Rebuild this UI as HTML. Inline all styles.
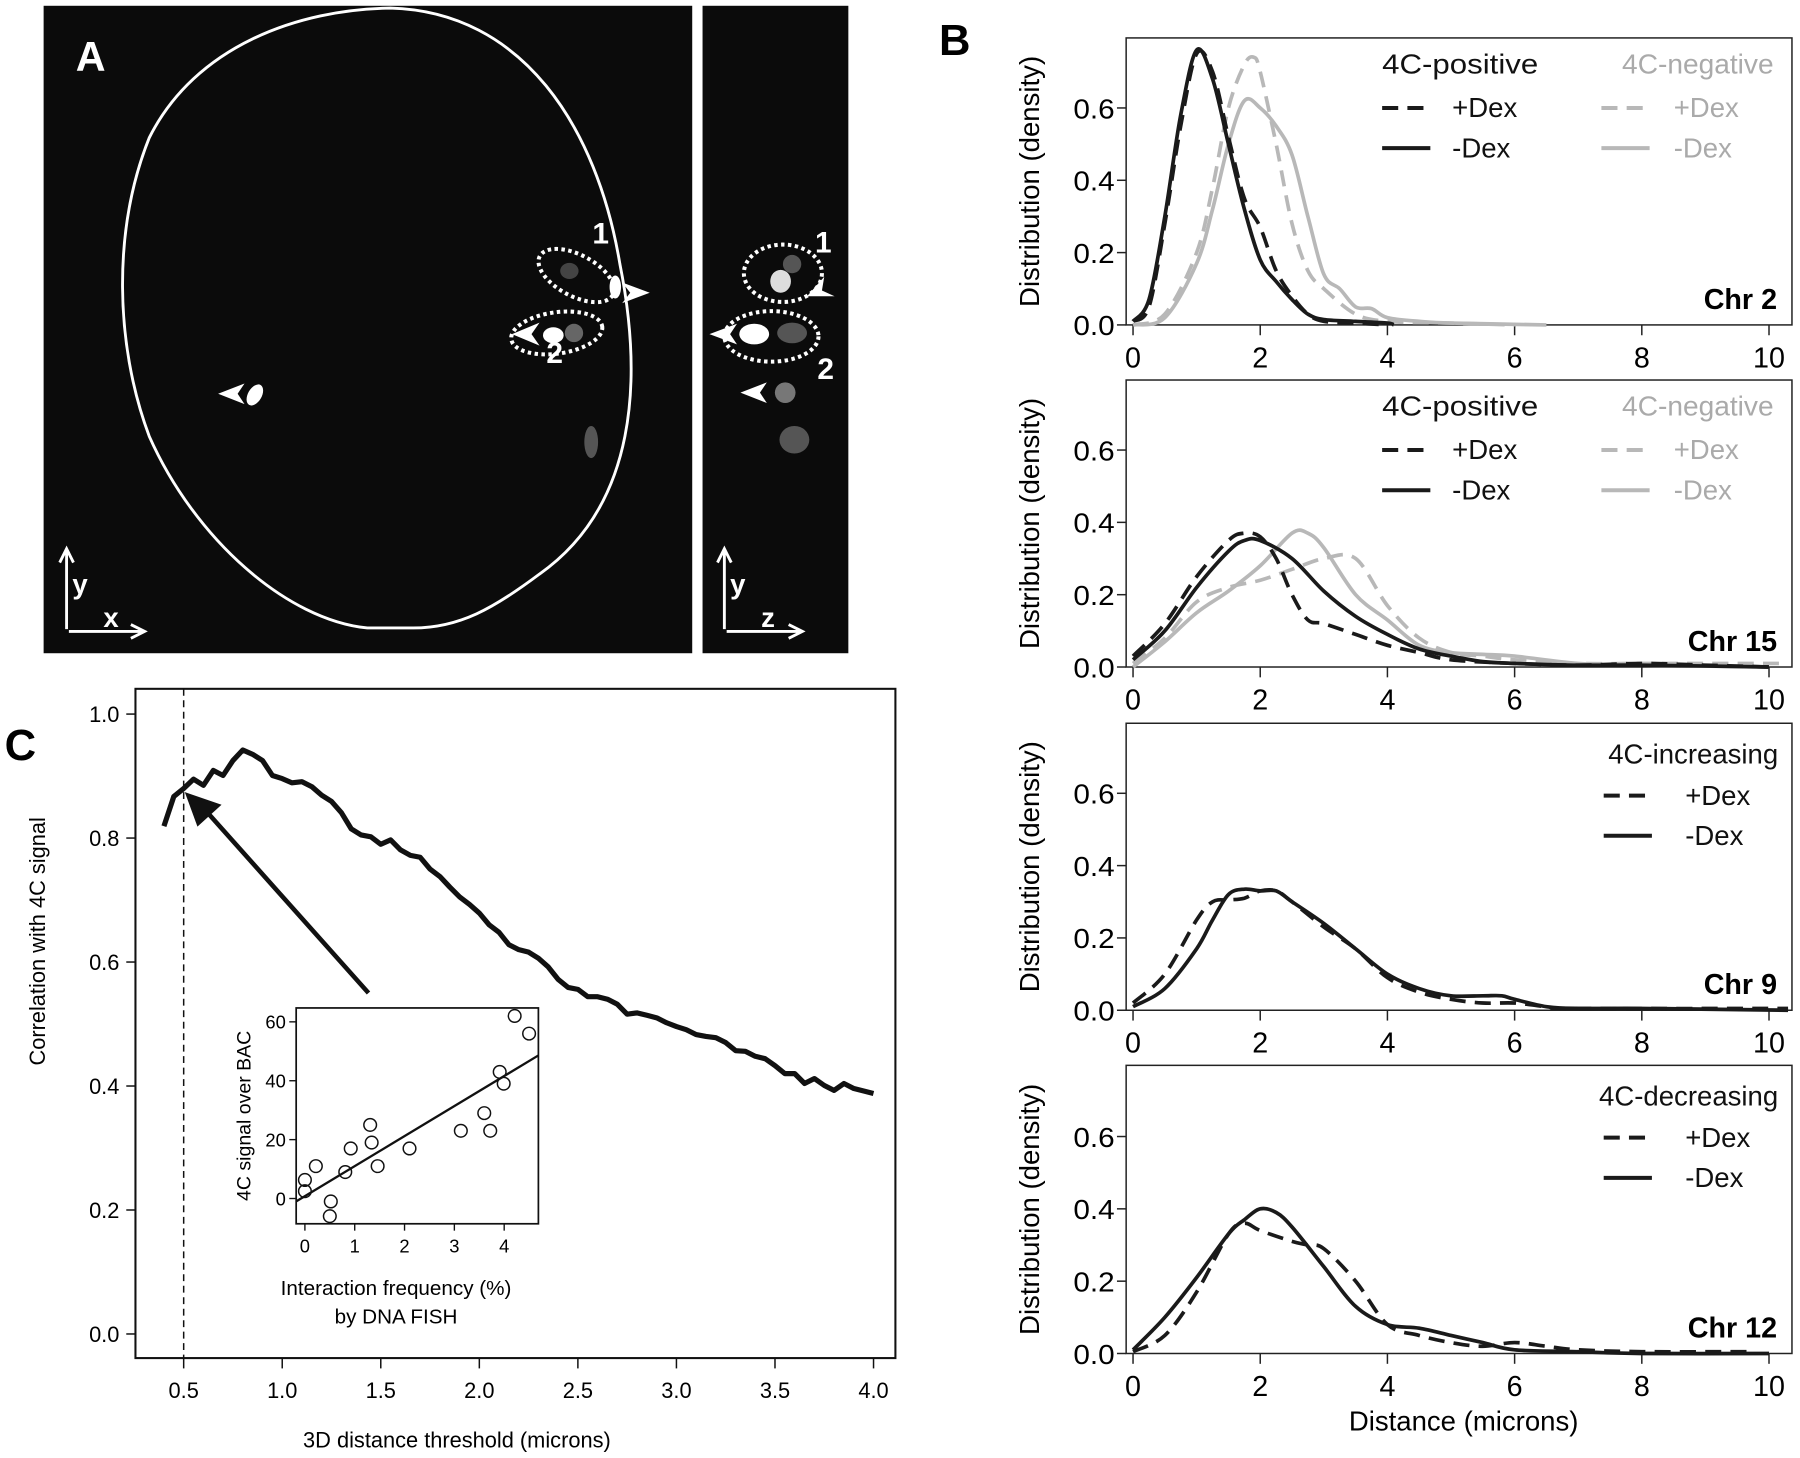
<!DOCTYPE html>
<html><head><meta charset="utf-8"><style>
html,body{margin:0;padding:0;background:#fff}
svg{display:block}
text{font-family:"Liberation Sans",Arial,sans-serif}
</style></head><body>
<svg id="fig" width="1800" height="1458" viewBox="0 0 1568 1270" xmlns="http://www.w3.org/2000/svg">
<!-- Panel A -->
<g>
<rect x="38" y="5" width="565" height="564" fill="#0b0b0b"/>
<rect x="612" y="5" width="127" height="564" fill="#0b0b0b"/>
<path d="M340,7 C455,10 520,110 540,230 C560,330 555,440 470,500 C430,530 400,547 360,547 L320,547 C250,540 170,470 130,380 C100,300 98,200 130,120 C170,40 260,8 340,7 Z" fill="none" stroke="#fff" stroke-width="2.5"/>
<ellipse cx="222" cy="344" rx="6" ry="10" fill="#fff" transform="rotate(30 222 344)"/>
<ellipse cx="482" cy="292" rx="9" ry="7" fill="#fff"/>
<ellipse cx="500" cy="290" rx="8" ry="8" fill="#666"/>
<ellipse cx="536" cy="250" rx="5" ry="10" fill="#fff"/>
<ellipse cx="496" cy="236" rx="8" ry="7" fill="#444"/>
<ellipse cx="515" cy="385" rx="6" ry="14" fill="#555"/>
<ellipse cx="502" cy="240" rx="36" ry="18" fill="none" stroke="#fff" stroke-width="3.5" stroke-dasharray="3,3" transform="rotate(28 502 240)"/>
<ellipse cx="485" cy="290" rx="40" ry="18" fill="none" stroke="#fff" stroke-width="3.5" stroke-dasharray="3,3" transform="rotate(-8 485 290)"/>
<text x="516" y="212" fill="#fff" font-size="26" font-weight="bold">1</text>
<text x="476" y="316" fill="#fff" font-size="26" font-weight="bold">2</text>
<polygon points="190,343 213,334 207,343 213,352" fill="#fff"/>
<polygon points="446,291 470,281 463,291 470,301" fill="#fff"/>
<polygon points="566,255 542,246 549,255 542,264" fill="#fff"/>
<text x="66" y="62" fill="#fff" font-size="36" font-weight="bold">A</text>
<g stroke="#fff" stroke-width="2.5" fill="none">
<path d="M58,548 V478 M52,490 L58,478 L64,490 M60,550 H126 M114,544 L126,550 L114,556"/></g>
<text x="63" y="517" fill="#fff" font-size="24" font-weight="bold">y</text>
<text x="90" y="546" fill="#fff" font-size="24" font-weight="bold">x</text>
<ellipse cx="680" cy="245" rx="9" ry="10" fill="#ddd"/>
<ellipse cx="690" cy="230" rx="8" ry="8" fill="#555"/>
<ellipse cx="657" cy="291" rx="13" ry="9" fill="#fff"/>
<ellipse cx="690" cy="290" rx="13" ry="9" fill="#555"/>
<ellipse cx="684" cy="342" rx="9" ry="9" fill="#777"/>
<ellipse cx="692" cy="383" rx="13" ry="12" fill="#555"/>
<ellipse cx="682" cy="238" rx="34" ry="25" fill="none" stroke="#fff" stroke-width="3.5" stroke-dasharray="3,3"/>
<ellipse cx="672" cy="293" rx="41" ry="22" fill="none" stroke="#fff" stroke-width="3.5" stroke-dasharray="3,3"/>
<text x="710" y="220" fill="#fff" font-size="26" font-weight="bold">1</text>
<text x="712" y="330" fill="#fff" font-size="26" font-weight="bold">2</text>
<polygon points="618,291 642,282 636,291 642,300" fill="#fff"/>
<polygon points="645,342 668,333 662,342 668,351" fill="#fff"/>
<polygon points="703,258 718,241 716,253 727,258" fill="#fff"/>
<g stroke="#fff" stroke-width="2.5" fill="none">
<path d="M631,548 V478 M625,490 L631,478 L637,490 M633,550 H699 M687,544 L699,550 L687,556"/></g>
<text x="636" y="517" fill="#fff" font-size="24" font-weight="bold">y</text>
<text x="663" y="546" fill="#fff" font-size="24" font-weight="bold">z</text>
</g>
<text x="818" y="48" font-size="38" font-weight="bold">B</text>
<text x="4" y="662" font-size="38" font-weight="bold">C</text>
<g id="gB"></g>
<g id="gC"></g>
</svg>
<script>
// ---------- Panel B data ----------
const bXTicks = [0, 2, 4, 6, 8, 10];
const bYTicks = [0.0, 0.2, 0.4, 0.6];
const bYTickLabels = ["0.0", "0.2", "0.4", "0.6"];
const chrNames = ["Chr 2", "Chr 15", "Chr 9", "Chr 12"];
// Chr 2
const chr2PosMinusX = [0,0.25,0.5,0.75,1.0,1.25,1.5,1.75,2.0,2.25,2.5,2.75,3.0,3.5,4.0,4.1];
const chr2PosMinusY = [0.01,0.07,0.3,0.58,0.76,0.68,0.5,0.32,0.18,0.12,0.07,0.03,0.015,0.01,0.005,0];
const chr2PosPlusX = [0,0.25,0.5,0.75,1.0,1.25,1.5,1.75,2.0,2.25,2.5,2.75,3.0,3.5,4.0];
const chr2PosPlusY = [0.01,0.05,0.28,0.55,0.75,0.7,0.52,0.35,0.27,0.15,0.08,0.03,0.01,0.005,0];
const chr2NegMinusX = [0,0.5,1.0,1.25,1.5,1.75,2.0,2.25,2.5,2.75,3.0,3.25,3.5,3.75,4.0,4.5,5.0,6.5];
const chr2NegMinusY = [0,0.02,0.17,0.32,0.5,0.62,0.6,0.55,0.47,0.3,0.14,0.1,0.05,0.045,0.02,0.01,0.005,0];
const chr2NegPlusX = [0,0.5,1.0,1.25,1.5,1.75,1.9,2.0,2.25,2.5,2.75,3.0,3.5,4.0,5.0,6.0];
const chr2NegPlusY = [0,0.03,0.2,0.38,0.6,0.72,0.74,0.7,0.5,0.28,0.15,0.1,0.03,0.01,0.005,0];
// Chr 15
const chr15PosPlusX = [0,0.5,1.0,1.5,1.75,2.0,2.25,2.5,2.75,3.0,3.5,4.0,4.5,5.0,6.0,7.0,8.0,9.0,10.0];
const chr15PosPlusY = [0.03,0.12,0.25,0.35,0.37,0.36,0.3,0.2,0.13,0.12,0.09,0.06,0.04,0.02,0.01,0.005,0.01,0.005,0];
const chr15PosMinusX = [0,0.5,1.0,1.5,1.75,2.0,2.5,3.0,3.5,4.0,4.5,5.0,5.5,6.0,7.0,8.0,10.0];
const chr15PosMinusY = [0.02,0.1,0.22,0.32,0.35,0.35,0.3,0.21,0.14,0.09,0.05,0.03,0.015,0.01,0.005,0.005,0];
const chr15NegMinusX = [0,0.5,1.0,1.5,2.0,2.5,2.75,3.0,3.5,4.0,4.5,5.0,5.5,6.0,7.0,8.0,10.0];
const chr15NegMinusY = [0,0.07,0.15,0.21,0.28,0.37,0.37,0.33,0.2,0.13,0.06,0.04,0.035,0.03,0.01,0.005,0];
const chr15NegPlusX = [0,0.5,1.0,1.5,2.0,2.5,3.0,3.5,4.0,4.5,5.0,5.5,6.0,7.0,8.0,9.0,10.2];
const chr15NegPlusY = [0.01,0.08,0.18,0.22,0.24,0.27,0.3,0.3,0.17,0.08,0.04,0.03,0.02,0.01,0.01,0.01,0.01];
// Chr 9
const chr9MinusX = [0,0.5,1.0,1.25,1.5,1.75,2.0,2.25,2.5,3.0,3.5,4.0,4.5,5.0,5.5,5.8,6.0,6.5,7.0,8.0,10.3];
const chr9MinusY = [0.01,0.06,0.17,0.25,0.32,0.335,0.33,0.33,0.3,0.24,0.17,0.1,0.06,0.04,0.04,0.04,0.03,0.01,0.005,0.005,0];
const chr9PlusX = [0,0.5,1.0,1.25,1.5,1.75,2.0,2.25,2.5,3.0,3.5,4.0,4.5,5.0,5.5,6.0,6.5,7.0,10.3];
const chr9PlusY = [0.02,0.1,0.25,0.3,0.305,0.31,0.33,0.33,0.3,0.23,0.17,0.09,0.05,0.03,0.02,0.02,0.01,0.005,0.005];
// Chr 12
const chr12MinusX = [0,0.5,1.0,1.5,1.75,2.0,2.25,2.5,3.0,3.5,4.0,4.5,5.0,5.5,6.0,7.0,8.0,10.0];
const chr12MinusY = [0.01,0.1,0.21,0.33,0.37,0.4,0.39,0.35,0.24,0.13,0.08,0.07,0.05,0.03,0.01,0.005,0,0];
const chr12PlusX = [0,0.5,1.0,1.5,1.75,2.0,2.5,2.75,3.0,3.5,4.0,4.5,5.0,5.5,6.0,6.5,7.0,8.0,9.7];
const chr12PlusY = [0.005,0.05,0.17,0.33,0.36,0.34,0.31,0.3,0.29,0.2,0.08,0.05,0.03,0.02,0.03,0.02,0.01,0.005,0.005];

// ---------- Panel C data ----------
const cThreshold = [0.40,0.45,0.50,0.55,0.60,0.65,0.70,0.75,0.80,0.85,0.90,0.95,1.00,1.05,1.10,1.15,1.20,1.25,1.30,1.35,1.40,1.45,1.50,1.55,1.60,1.65,1.70,1.75,1.80,1.85,1.90,1.95,2.00,2.05,2.10,2.15,2.20,2.25,2.30,2.35,2.40,2.45,2.50,2.55,2.60,2.65,2.70,2.75,2.80,2.85,2.90,2.95,3.00,3.05,3.10,3.15,3.20,3.25,3.30,3.35,3.40,3.45,3.50,3.55,3.60,3.65,3.70,3.75,3.80,3.85,3.90,3.95,4.00];
const cCorrelation = [0.819,0.867,0.88,0.895,0.885,0.909,0.901,0.925,0.942,0.935,0.925,0.901,0.896,0.889,0.891,0.883,0.869,0.859,0.841,0.815,0.805,0.802,0.790,0.797,0.781,0.772,0.769,0.750,0.738,0.721,0.705,0.693,0.679,0.660,0.648,0.628,0.620,0.616,0.606,0.592,0.572,0.559,0.556,0.544,0.544,0.540,0.532,0.516,0.518,0.514,0.510,0.502,0.496,0.491,0.483,0.480,0.478,0.470,0.457,0.456,0.448,0.444,0.433,0.420,0.420,0.404,0.412,0.401,0.393,0.404,0.396,0.392,0.388];
const cXTicks = [0.5,1.0,1.5,2.0,2.5,3.0,3.5,4.0];
const cXTickLabels = ["0.5","1.0","1.5","2.0","2.5","3.0","3.5","4.0"];
const cYTicks = [0.0,0.2,0.4,0.6,0.8,1.0];
const cYTickLabels = ["0.0","0.2","0.4","0.6","0.8","1.0"];
const insetFreq = [0.0,0.0,0.22,0.52,0.5,0.81,0.92,1.31,1.34,1.46,2.1,3.13,3.6,3.72,3.91,3.99,4.21,4.5];
const insetSignal = [6.3,2.5,11,-1,-6,9,17,25,19,11,17,23,29,23,43,39,62,56];
const insetFit = [0.8, 10.2]; // intercept, slope
const insetXTicks = [0,1,2,3,4];
const insetYTicks = [0,20,40,60];

const NS = "http://www.w3.org/2000/svg";
function mk(tag, attrs, parent, txt) {
  const e = document.createElementNS(NS, tag);
  for (const k in attrs) e.setAttribute(k, attrs[k]);
  if (txt !== undefined) e.textContent = txt;
  parent.appendChild(e);
  return e;
}
function smoothPath(P) {
  let d = 'M' + P[0][0].toFixed(1) + ',' + P[0][1].toFixed(1);
  for (let i = 0; i < P.length - 1; i++) {
    const p0 = P[Math.max(0, i - 1)], p1 = P[i], p2 = P[i + 1], p3 = P[Math.min(P.length - 1, i + 2)];
    const c1x = p1[0] + (p2[0] - p0[0]) / 6, c1y = p1[1] + (p2[1] - p0[1]) / 6;
    const c2x = p2[0] - (p3[0] - p1[0]) / 6, c2y = p2[1] - (p3[1] - p1[1]) / 6;
    d += ` C${c1x.toFixed(1)},${c1y.toFixed(1)} ${c2x.toFixed(1)},${c2y.toFixed(1)} ${p2[0].toFixed(1)},${p2[1].toFixed(1)}`;
  }
  return d;
}

// ---------- Build panel B ----------
const gB = document.getElementById('gB');
const bPanels = [
  {top: 33, zero: 283, title: chrNames[0], legend: 'pn',
   series: [[chr2NegMinusX,chr2NegMinusY,'#b8b8b8',''],[chr2NegPlusX,chr2NegPlusY,'#b8b8b8','14,8'],[chr2PosMinusX,chr2PosMinusY,'#1a1a1a',''],[chr2PosPlusX,chr2PosPlusY,'#1a1a1a','14,8']]},
  {top: 331, zero: 581, title: chrNames[1], legend: 'pn',
   series: [[chr15NegMinusX,chr15NegMinusY,'#b8b8b8',''],[chr15NegPlusX,chr15NegPlusY,'#b8b8b8','14,8'],[chr15PosMinusX,chr15PosMinusY,'#1a1a1a',''],[chr15PosPlusX,chr15PosPlusY,'#1a1a1a','14,8']]},
  {top: 630, zero: 880, title: chrNames[2], legend: '4C-increasing',
   series: [[chr9MinusX,chr9MinusY,'#1a1a1a',''],[chr9PlusX,chr9PlusY,'#1a1a1a','14,8']]},
  {top: 928, zero: 1179, title: chrNames[3], legend: '4C-decreasing',
   series: [[chr12MinusX,chr12MinusY,'#1a1a1a',''],[chr12PlusX,chr12PlusY,'#1a1a1a','14,8']]}
];
const bx = v => 987 + v * 55.4;
const bLeft = 981, bRight = 1561;
bPanels.forEach((p, i) => {
  const by = v => p.zero - v * 315;
  const g = mk('g', {}, gB);
  
  
  const box = mk('rect', {x: bLeft, y: p.top, width: bRight - bLeft, height: p.zero - p.top, fill: 'none', stroke: '#222', 'stroke-width': 1.3}, g);
  
  
  bYTicks.forEach((t, k) => {
    const tk = mk('line', {x1: bLeft - 8, x2: bLeft, y1: by(t), y2: by(t), stroke: '#222', 'stroke-width': 1.3}, g);
    
    
    const tl = mk('text', {x: bLeft - 10, y: by(t) + 9, 'font-size': 24, 'text-anchor': 'end', textLength: 36, lengthAdjust: 'spacingAndGlyphs'}, g, bYTickLabels[k]);
    
    
  });
  bXTicks.forEach(t => {
    const tk = mk('line', {x1: bx(t), x2: bx(t), y1: p.zero, y2: p.zero + 9, stroke: '#222', 'stroke-width': 1.3}, g);
    
    
    const tl = mk('text', {x: bx(t), y: p.zero + 37, 'font-size': 25, 'text-anchor': 'middle'}, g, String(t));
    
    
  });
  const yl = mk('text', {x: 0, y: 0, 'font-size': 24, 'text-anchor': 'middle', transform: `translate(905 ${(p.top + p.zero) / 2}) rotate(-90)`}, g, 'Distribution (density)');
  
  
  p.series.forEach(s => {
    const P = s[0].map((x, k) => [bx(x), by(s[1][k])]);
    const ln = mk('path', {d: smoothPath(P), fill: 'none', stroke: s[2], 'stroke-width': 3.2, 'stroke-linejoin': 'round', 'stroke-dasharray': s[3] || 'none'}, g);
    
    
  });
  const ct = mk('text', {x: 1548, y: p.zero - 14, 'font-size': 25, 'font-weight': 'bold', 'text-anchor': 'end'}, g, p.title);
  
  
  const lg = mk('g', {}, g);
  
  
  const entry = (x1, lx, y, dash, col, txt) => {
    const l = mk('line', {x1: x1, x2: x1 + 42, y1: y - 8, y2: y - 8, stroke: col, 'stroke-width': 3.5, 'stroke-dasharray': dash}, lg);
    
    
    const t = mk('text', {x: lx, y: y, 'font-size': 24, fill: col === '#1a1a1a' ? '#111' : '#aaa'}, lg, txt);
    
    
  };
  if (p.legend === 'pn') {
    const h1 = mk('text', {x: 1204, y: p.top + 31, 'font-size': 24, fill: '#111', textLength: 136, lengthAdjust: 'spacingAndGlyphs'}, lg, '4C-positive');
    
    
    const h2 = mk('text', {x: 1413, y: p.top + 31, 'font-size': 24, fill: '#aaa', textLength: 132, lengthAdjust: 'spacingAndGlyphs'}, lg, '4C-negative');
    
    
    entry(1204, 1265, p.top + 69, '14,8', '#1a1a1a', '+Dex');
    entry(1204, 1265, p.top + 104, 'none', '#1a1a1a', '-Dex');
    entry(1395, 1458, p.top + 69, '14,8', '#b8b8b8', '+Dex');
    entry(1395, 1458, p.top + 104, 'none', '#b8b8b8', '-Dex');
  } else {
    const h = mk('text', {x: 1549, y: p.top + 35, 'font-size': 24, fill: '#111', 'text-anchor': 'end'}, lg, p.legend);
    
    
    entry(1397, 1468, p.top + 71, '14,8', '#1a1a1a', '+Dex');
    entry(1397, 1468, p.top + 106, 'none', '#1a1a1a', '-Dex');
  }
});
const bxt = mk('text', {x: 1275, y: 1246, 'font-size': 24, 'text-anchor': 'middle'}, gB, 'Distance (microns)');



// ---------- Build panel C ----------
const gC = document.getElementById('gC');
const cx = v => 160 + (v - 0.5) * 171.7;
const cy = v => 1162 - v * 540;
const cTop = 600, cBottom = 1183;
const cf = mk('rect', {x: 118, y: cTop, width: 662, height: cBottom - cTop, fill: 'none', stroke: '#111', 'stroke-width': 1.8}, gC);


cXTicks.forEach((t, k) => {
  const tk = mk('line', {x1: cx(t), x2: cx(t), y1: cBottom, y2: cBottom + 9, stroke: '#111', 'stroke-width': 1.3}, gC);
  
  
  const tl = mk('text', {x: cx(t), y: 1218, 'font-size': 19, 'text-anchor': 'middle'}, gC, cXTickLabels[k]);
  
  
});
cYTicks.forEach((t, k) => {
  const tk = mk('line', {x1: 110, x2: 118, y1: cy(t), y2: cy(t), stroke: '#111', 'stroke-width': 1.3}, gC);
  
  
  const tl = mk('text', {x: 104, y: cy(t) + 7, 'font-size': 19, 'text-anchor': 'end'}, gC, cYTickLabels[k]);
  
  
});
const cyt = mk('text', {x: 0, y: 0, 'font-size': 19, 'text-anchor': 'middle', transform: 'translate(39 820) rotate(-90)'}, gC, 'Correlation with 4C signal');


const cxt = mk('text', {x: 398, y: 1261, 'font-size': 19, 'text-anchor': 'middle'}, gC, '3D distance threshold (microns)');


const vl = mk('line', {x1: cx(0.5), x2: cx(0.5), y1: cTop, y2: cBottom, stroke: '#111', 'stroke-width': 1.3, 'stroke-dasharray': '6,4'}, gC);


const cl = mk('polyline', {points: cThreshold.map((x, k) => cx(x).toFixed(1) + ',' + cy(cCorrelation[k]).toFixed(1)).join(' '), fill: 'none', stroke: '#111', 'stroke-width': 4.5, 'stroke-linejoin': 'round'}, gC);


const ar = mk('line', {x1: 321, y1: 865, x2: 180, y2: 707, stroke: '#111', 'stroke-width': 4}, gC);


const ah = mk('polygon', {points: '161,690 193,701 172,720', fill: '#111'}, gC);



// Inset
const gi = mk('g', {}, gC);


const ix = v => 265.6 + v * 43.4;
const iy = v => 1044 - v * 2.565;
const ifr = mk('rect', {x: 258, y: 878, width: 211, height: 188, fill: '#fff', stroke: '#111', 'stroke-width': 1.5}, gi);


insetXTicks.forEach(t => {
  const tk = mk('line', {x1: ix(t), x2: ix(t), y1: 1066, y2: 1072, stroke: '#111', 'stroke-width': 1.2}, gi);
  
  
  const tl = mk('text', {x: ix(t), y: 1091, 'font-size': 16, 'text-anchor': 'middle'}, gi, String(t));
  
  
});
insetYTicks.forEach(t => {
  const tk = mk('line', {x1: 252, x2: 258, y1: iy(t), y2: iy(t), stroke: '#111', 'stroke-width': 1.2}, gi);
  
  
  const tl = mk('text', {x: 249, y: iy(t) + 6, 'font-size': 16, 'text-anchor': 'end'}, gi, String(t));
  
  
});
const x0 = -0.17, x1 = 4.69;
const fl = mk('line', {x1: ix(x0), y1: iy(insetFit[0] + insetFit[1] * x0), x2: ix(x1), y2: iy(insetFit[0] + insetFit[1] * x1), stroke: '#111', 'stroke-width': 2}, gi);


insetFreq.forEach((f, k) => {
  const c = mk('circle', {cx: ix(f), cy: iy(insetSignal[k]), r: 5.5, fill: 'none', stroke: '#111', 'stroke-width': 1.3}, gi);
  
  
});
const iyt = mk('text', {x: 0, y: 0, 'font-size': 17, 'text-anchor': 'middle', transform: 'translate(218 972) rotate(-90)'}, gi, '4C signal over BAC');


const ixt1 = mk('text', {x: 345, y: 1128, 'font-size': 18, 'text-anchor': 'middle'}, gi, 'Interaction frequency (%)');


const ixt2 = mk('text', {x: 345, y: 1153, 'font-size': 18, 'text-anchor': 'middle'}, gi, 'by DNA FISH');


</script>
</body></html>
